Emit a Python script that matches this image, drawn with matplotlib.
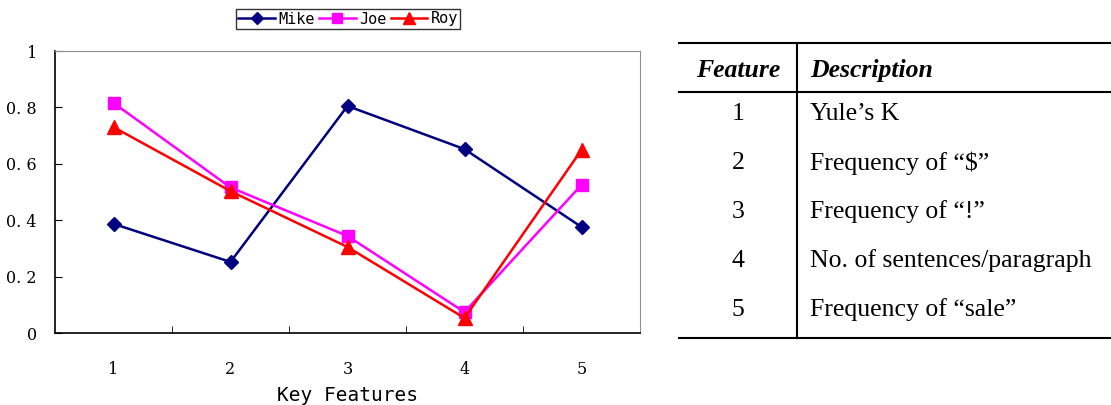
import matplotlib.pyplot as plt
import numpy as np

features = [1, 2, 3, 4, 5]
mike = [0.387, 0.252, 0.805, 0.652, 0.376]
joe = [0.816, 0.516, 0.344, 0.074, 0.525]
roy = [0.730, 0.503, 0.305, 0.053, 0.649]
y_ticks = [0, 0.2, 0.4, 0.6, 0.8, 1.0]
y_labels = ['0', '0. 2', '0. 4', '0. 6', '0. 8', '1']

table_head = ['Feature', 'Description']
table_ids = ['1', '2', '3', '4', '5']
table_desc = ['Yule\u2019s K', 'Frequency of \u201c$\u201d', 'Frequency of \u201c!\u201d',
              'No. of sentences/paragraph', 'Frequency of \u201csale\u201d']

fig = plt.figure(figsize=(11.11, 4.05), dpi=100)
ax = fig.add_axes([55 / 1111, 1 - 333 / 405, 585 / 1111, 282 / 405])

ax.plot(features, mike, color='#000080', marker='D', markersize=7.5, lw=1.8, label='Mike')
ax.plot(features, joe, color='#FF00FF', marker='s', markersize=9, lw=1.8, label='Joe')
ax.plot(features, roy, color='#FF0000', marker='^', markersize=10, lw=1.8, label='Roy')

ax.set_xlim(0.5, 5.5)
ax.set_ylim(0, 1)
ax.set_yticks(y_ticks)
ax.set_yticklabels(y_labels, family='DejaVu Serif', fontsize=11.5)
ax.set_xticks(features)
ax.set_xticklabels([str(f) for f in features], family='DejaVu Serif', fontsize=11.5)
ax.set_xticks([1.5, 2.5, 3.5, 4.5], minor=True)
ax.tick_params(axis='x', which='major', length=0, pad=20)
ax.tick_params(axis='x', which='minor', direction='in', length=5)
ax.tick_params(axis='y', direction='in', length=5, pad=13)
ax.set_xlabel('Key Features', family='DejaVu Sans Mono', fontsize=14, labelpad=6)
for s in ['top', 'right']:
    ax.spines[s].set_color('#909090')
ax.spines['left'].set_linewidth(1.2)
ax.spines['bottom'].set_linewidth(1.2)

leg = ax.legend(loc='center', bbox_to_anchor=(348 / 1111, 1 - 19 / 405), bbox_transform=fig.transFigure,
                ncol=3, frameon=True, fancybox=False, edgecolor='black', handlelength=2.4,
                handletextpad=0.2, columnspacing=0.3, borderpad=0.15, markerscale=0.8,
                prop={'family': 'DejaVu Sans Mono', 'size': 11})
leg.get_frame().set_linewidth(1.0)

# table on the right
tab = fig.add_axes([678 / 1111, 1 - 345 / 405, 433 / 1111, 310 / 405])
tab.set_xlim(678, 1111)
tab.set_ylim(345, 35)
tab.axis('off')
tab.plot([678, 1111], [43, 43], color='black', lw=1.5)
tab.plot([678, 1111], [92, 92], color='black', lw=1.5)
tab.plot([678, 1111], [338, 338], color='black', lw=1.5)
tab.plot([797, 797], [43, 338], color='black', lw=1.5)
tab.text(738, 70, table_head[0], ha='center', va='center', family='Liberation Serif',
         style='italic', weight='bold', fontsize=18.5)
tab.text(810, 70, table_head[1], ha='left', va='center', family='Liberation Serif',
         style='italic', weight='bold', fontsize=18.5)
for i, (fid, desc) in enumerate(zip(table_ids, table_desc)):
    y = 114 + 49 * i
    tab.text(738, y, fid, ha='center', va='center', family='Liberation Serif', fontsize=18.5)
    tab.text(810, y, desc, ha='left', va='center', family='Liberation Serif', fontsize=18.5)

fig.savefig('out.png', dpi=100)
